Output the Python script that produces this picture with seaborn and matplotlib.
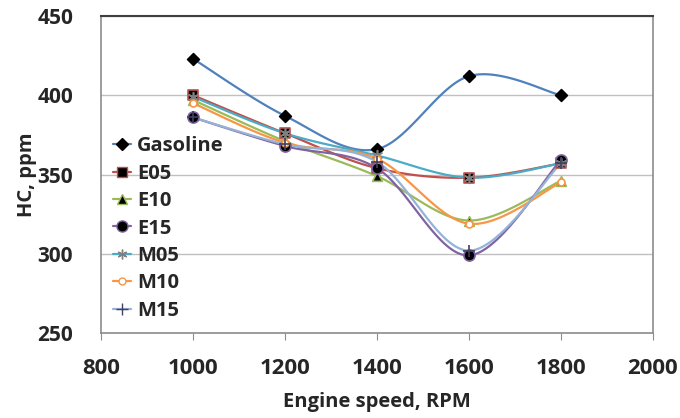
import numpy as np
import pandas as pd
import matplotlib
matplotlib.use("Agg")
import matplotlib.pyplot as plt
import seaborn as sns
from matplotlib.lines import Line2D

# Datos
rpm = [1000, 1200, 1400, 1600, 1800]
gasoline = [423, 387, 366, 412, 400]
e05 = [400, 376, 354, 348, 357]
e10 = [397, 371, 349, 321, 346]
e15 = [386, 368, 354, 299, 359]
m05 = [399, 376, 362, 348, 357]
m10 = [395, 370, 360, 319, 345]
m15 = [386, 369, 358, 302, 357]

series = {
    "Gasoline": gasoline,
    "E05": e05,
    "E10": e10,
    "E15": e15,
    "M05": m05,
    "M10": m10,
    "M15": m15,
}

# estilo: color de linea, marcador, relleno, borde, tamano
estilos = {
    "Gasoline": ("#4F81BD", "D", "black", "black", 6),
    "E05": ("#C0504D", "s", "black", "#C0504D", 7),
    "E10": ("#9BBB59", "^", "black", "#9BBB59", 7),
    "E15": ("#8064A2", "o", "black", "#8064A2", 8),
    "M05": ("#4BACC6", (6, 2, 0), "#7f7f7f", "#7f7f7f", 7),
    "M10": ("#F79646", "o", "white", "#F79646", 5),
    "M15": ("#95B3D7", "+", "#404060", "#404060", 8),
}


def suavizar(x, y, n=30):
    # curva tipo Excel (Catmull-Rom)
    x = np.asarray(x, float)
    y = np.asarray(y, float)
    px = np.concatenate([[x[0]], x, [x[-1]]])
    py = np.concatenate([[y[0]], y, [y[-1]]])
    xs, ys = [], []
    t = np.linspace(0, 1, n)
    for i in range(1, len(px) - 2):
        p0, p1, p2, p3 = py[i - 1], py[i], py[i + 1], py[i + 2]
        q0, q1, q2, q3 = px[i - 1], px[i], px[i + 1], px[i + 2]
        for arr, a0, a1, a2, a3 in ((ys, p0, p1, p2, p3), (xs, q0, q1, q2, q3)):
            arr.extend(0.5 * (2 * a1 + (-a0 + a2) * t
                              + (2 * a0 - 5 * a1 + 4 * a2 - a3) * t ** 2
                              + (-a0 + 3 * a1 - 3 * a2 + a3) * t ** 3))
    return np.array(xs), np.array(ys)


sns.set_style("white")
plt.rcParams["font.family"] = ["Open Sans", "DejaVu Sans"]
plt.rcParams["font.weight"] = "bold"

fig = plt.figure(figsize=(6.8, 4.18), dpi=100)
ax = fig.add_axes([0.1485, 0.203, 0.8115, 0.759])

handles = []
for nombre, valores in series.items():
    color, marker, fc, ec, ms = estilos[nombre]
    sx, sy = suavizar(rpm, valores)
    curva = pd.DataFrame({"x": sx, "y": sy})
    sns.lineplot(data=curva, x="x", y="y", ax=ax, color=color,
                 linewidth=1.6, sort=False, estimator=None)
    puntos = pd.DataFrame({"x": rpm, "y": valores})
    sns.scatterplot(data=puntos, x="x", y="y", ax=ax, marker=marker,
                    color=fc, edgecolor=ec, s=ms ** 2, linewidth=1.2,
                    zorder=5)
    handles.append(Line2D([], [], color=color, marker=marker, markersize=ms,
                          markerfacecolor=fc, markeredgecolor=ec,
                          linewidth=1.6, label=nombre))

ax.set_xlim(800, 2000)
ax.set_ylim(250, 450)
ax.set_xticks(range(800, 2001, 200))
ax.set_yticks(range(250, 451, 50))
ax.yaxis.grid(True, color="#c0c0c0", linewidth=1)
ax.set_axisbelow(True)

for lado in ["left", "bottom", "right"]:
    ax.spines[lado].set_color("#8c8c8c")
    ax.spines[lado].set_linewidth(1.2)
ax.spines["top"].set_color("#404040")
ax.spines["top"].set_linewidth(1.5)

ax.tick_params(axis="x", direction="out", length=5, color="#8c8c8c",
               labelsize=16, pad=13, bottom=True)
ax.tick_params(axis="y", length=0, labelsize=15, pad=20)
for lab in ax.get_xticklabels() + ax.get_yticklabels():
    lab.set_fontweight("bold")

ax.set_xlabel("Engine speed, RPM", fontsize=14.5, fontweight="bold", labelpad=9)
ax.set_ylabel("HC, ppm", fontsize=14.5, fontweight="bold", labelpad=0)

leg = ax.legend(handles=handles, loc="upper left",
                bbox_to_anchor=(0.0, 0.659), frameon=False,
                prop={"size": 14.5, "weight": "bold"},
                handlelength=0.9, handletextpad=0.3, labelspacing=0.37,
                borderaxespad=0.2)

fig.savefig("out.png", dpi=100)
